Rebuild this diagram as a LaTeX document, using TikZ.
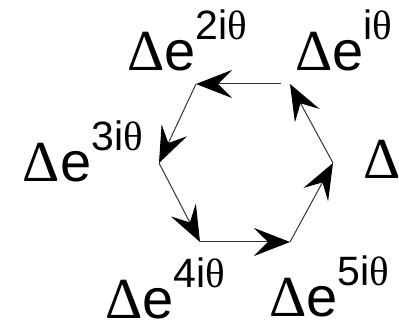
\documentclass[tikz,border=0pt]{standalone}
\usepackage{fontspec}
\setmainfont{Liberation Sans}
\newfontfamily\gk{Liberation Serif}
\usetikzlibrary{arrows.meta}
\tikzset{
  edge/.style={line width=1pt, draw=black!80, -{Stealth[length=36pt,width=28pt,inset=14pt,color=black]}},
  lab/.style={anchor=base west, inner sep=0pt, outer sep=0pt, text depth=0pt, font=\fontsize{56}{60}\selectfont}
}
\newcommand{\Dl}{{\gk\fontsize{58}{60}\selectfont Δ}}
\newcommand{\Sp}[1]{\raisebox{31pt}{\fontsize{41}{44}\selectfont #1}}
\newcommand{\thet}{{\gk θ}}
\begin{document}
\begin{tikzpicture}[x=1pt,y=-1pt]
\useasboundingbox (0,0) rectangle (399,328);
\coordinate (v0) at (333,163);
\coordinate (v1) at (290,84);
\coordinate (v2) at (196,84);
\coordinate (v3) at (159,163);
\coordinate (v4) at (200,242);
\coordinate (v5) at (290,242);
\draw[edge] (v0) -- (v1);
\draw[edge, shorten <=9pt] (v1) -- (v2);
\draw[edge] (v2) -- (v3);
\draw[edge] (v3) -- (v4);
\draw[edge] (v4) -- (v5);
\draw[edge] (v5) -- (v0);
\node[lab] (l0) at (363,179) {\Dl};
\node[lab] (l1) at (295,71) {\Dl e\Sp{i\thet}};
\node[lab] (l2) at (127,71) {\Dl e\Sp{2i\thet}};
\node[lab] (l3) at (23,182) {\Dl e\Sp{3i\thet}};
\node[lab] (l4) at (105,319) {\Dl e\Sp{4i\thet}};
\node[lab] (l5) at (269,317) {\Dl e\Sp{5i\thet}};
\end{tikzpicture}
\end{document}
